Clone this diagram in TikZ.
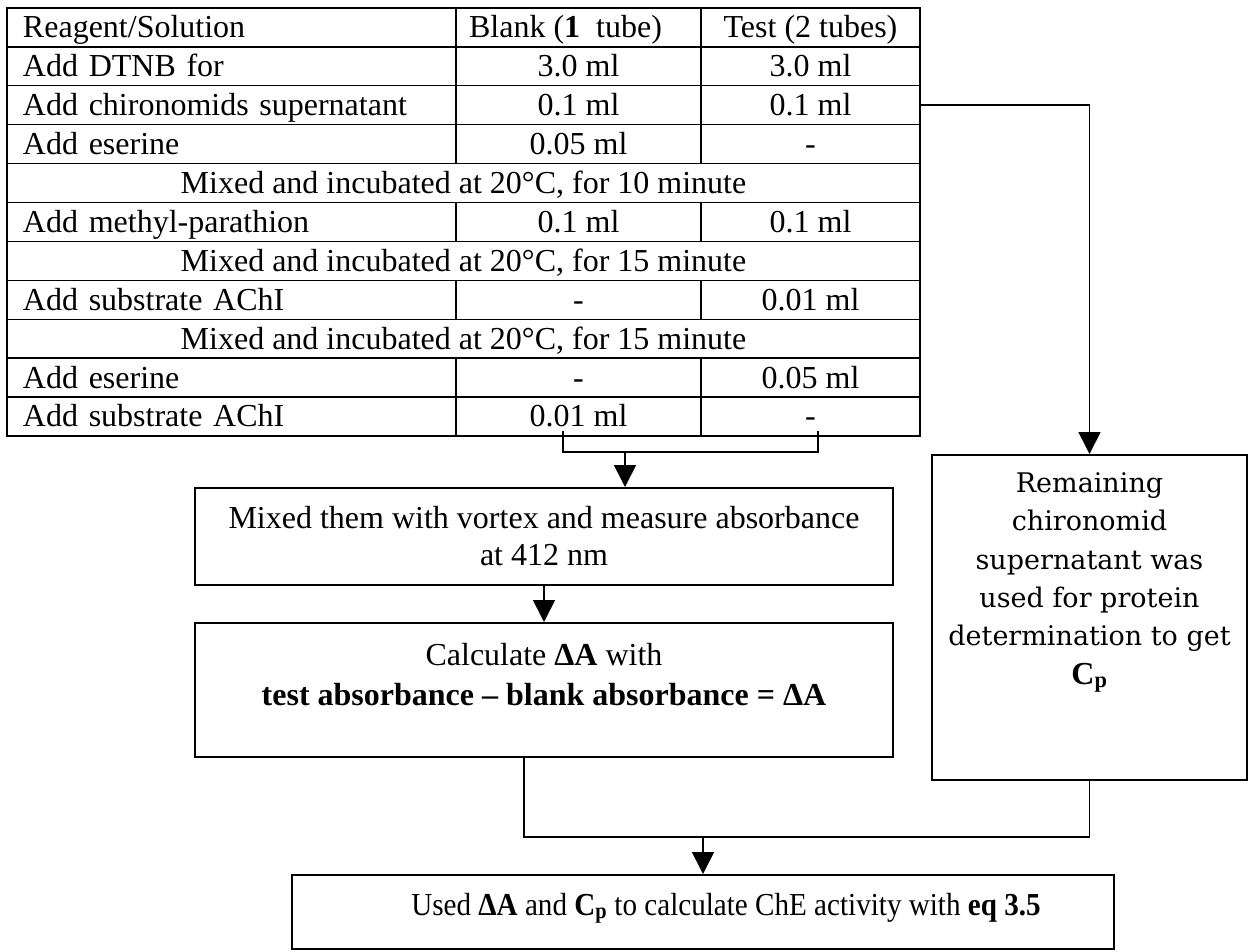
\documentclass[tikz,border=0pt]{standalone}
\usepackage{fontspec}
\usepackage{graphicx}
\setmainfont{Liberation Serif}
\newfontfamily\bookfont{DejaVu Serif}
\usetikzlibrary{arrows.meta,calc}
\begin{document}
\begin{tikzpicture}[x=1pt,y=-1pt,
  every node/.style={inner sep=0pt, font=\fontsize{32}{37}\selectfont},
  cell/.style={draw, line width=1.4pt, minimum height=38.9pt, text height=21pt, text depth=0pt},
  lcell/.style={cell, minimum width=449pt, text width=417pt, align=left, inner xsep=16pt},
  bcell/.style={cell, minimum width=245pt},
  tcell/.style={cell, minimum width=219pt},
  scell/.style={cell, minimum width=913pt},
  box/.style={draw, line width=2pt, align=center},
  conn/.style={line width=1.6pt},
  arr/.style={conn, -{Triangle[width=22pt,length=22pt]}},
]
\fill[white] (0,0) rectangle (1256,952);
\useasboundingbox (0,0) rectangle (1256,952);

% table
\node[lcell] (r1a) at (231.5,27.45) {Reagent/Solution};
\node[bcell] (r1b) at (578.5,27.45) {Blank (\textbf{1}\ \ tube)\hspace*{26pt}};
\node[tcell] (r1c) at (810.5,27.45) {Test (2 tubes)};

\node[lcell] (r2a) at (231.5,66.35) {Add DTNB for};
\node[bcell] (r2b) at (578.5,66.35) {3.0 ml};
\node[tcell] (r2c) at (810.5,66.35) {3.0 ml};

\node[lcell] (r3a) at (231.5,105.25) {Add chironomids supernatant};
\node[bcell] (r3b) at (578.5,105.25) {0.1 ml};
\node[tcell] (r3c) at (810.5,105.25) {0.1 ml};

\node[lcell] (r4a) at (231.5,144.15) {Add eserine};
\node[bcell] (r4b) at (578.5,144.15) {0.05 ml};
\node[tcell] (r4c) at (810.5,144.15) {-};

\node[scell] (r5) at (463.5,183.05) {Mixed and incubated at 20°C, for 10 minute};

\node[lcell] (r6a) at (231.5,221.95) {Add methyl-parathion};
\node[bcell] (r6b) at (578.5,221.95) {0.1 ml};
\node[tcell] (r6c) at (810.5,221.95) {0.1 ml};

\node[scell] (r7) at (463.5,260.85) {Mixed and incubated at 20°C, for 15 minute};

\node[lcell] (r8a) at (231.5,299.75) {Add substrate AChI};
\node[bcell] (r8b) at (578.5,299.75) {-};
\node[tcell] (r8c) at (810.5,299.75) {0.01 ml};

\node[scell] (r9) at (463.5,338.65) {Mixed and incubated at 20°C, for 15 minute};

\node[lcell] (r10a) at (231.5,377.55) {Add eserine};
\node[bcell] (r10b) at (578.5,377.55) {-};
\node[tcell] (r10c) at (810.5,377.55) {0.05 ml};

\node[lcell] (r11a) at (231.5,416.45) {Add substrate AChI};
\node[bcell] (r11b) at (578.5,416.45) {0.01 ml};
\node[tcell] (r11c) at (810.5,416.45) {-};

% boxes
\node[box, minimum width=698pt, minimum height=97pt, font=\fontsize{32}{37}\selectfont] (box1) at (544,536.5)
  {Mixed them with vortex and measure absorbance\\at 412 nm};
\node[box, minimum width=698pt, minimum height=134pt, font=\fontsize{32}{40}\selectfont] (box2) at (544,690)
  {Calculate \textbf{ΔA} with\\\textbf{test absorbance – blank absorbance = ΔA}\\[-8pt]\mbox{}};
\node[box, minimum width=315pt, minimum height=325pt, font=\bookfont\fontsize{27}{38.3}\selectfont] (rbox) at (1089.5,617.5)
  {Remaining\\chironomid\\supernatant was\\used for protein\\determination to get\\{\rmfamily\fontsize{32}{38.3}\selectfont\bfseries C\textsubscript{p}}\\[40pt]\mbox{}};
\node[box, minimum width=822pt, minimum height=74pt, text height=22pt, text depth=16pt] (box3) at (703,912)
  {\hspace*{46pt}\scalebox{0.91}[1]{Used \textbf{ΔA} and \textbf{C\textsubscript{p}} to calculate ChE activity with \textbf{eq 3.5}}};

% connectors
\coordinate (bj) at (625,452);
\draw[conn] ($(r11b.south)+(-15.5,-6)$) |- (bj) -| ($(r11c.south)+(7.5,-6)$);
\draw[arr] (bj) -- (bj |- box1.north);
\draw[arr] (box1.south) -- (box2.north);
\draw[arr] (r3c.east) -| (rbox.north);
\coordinate (j2) at (703,837);
\draw[conn] ([xshift=-20pt]box2.south) |- (j2) -| (rbox.south);
\draw[arr] (j2) -- (box3.north);
\end{tikzpicture}
\end{document}
